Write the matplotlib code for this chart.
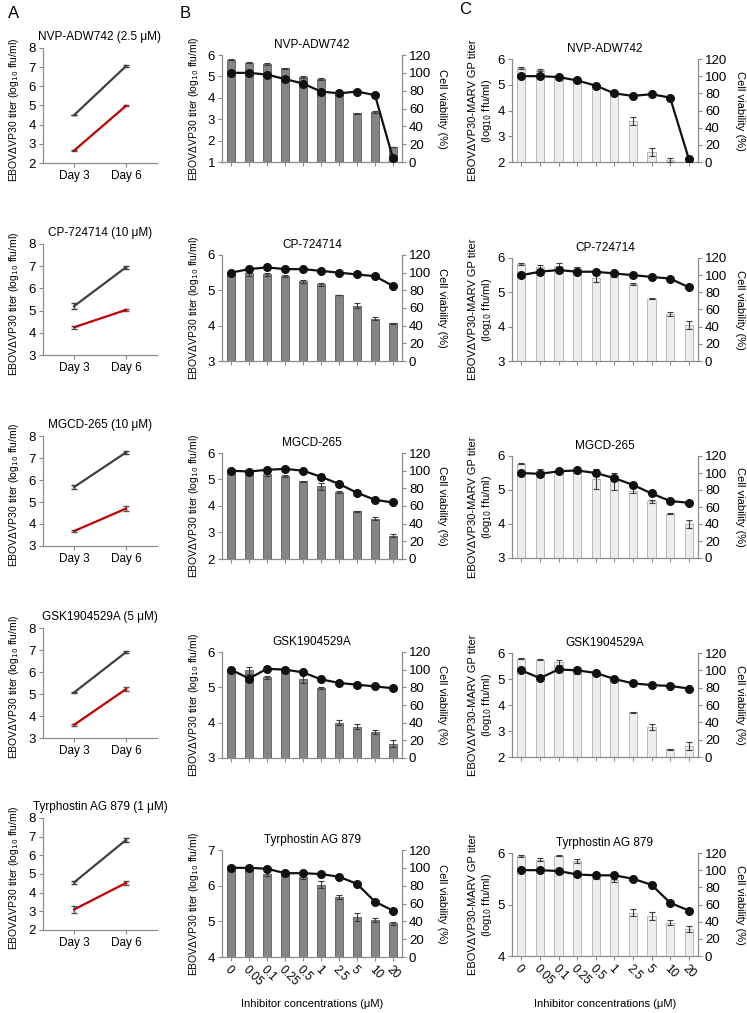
import numpy as np
import matplotlib
matplotlib.use('Agg')
import matplotlib.pyplot as plt

plt.rcParams['font.family'] = ['Liberation Sans', 'DejaVu Sans']
plt.rcParams['font.size'] = 8

W, H = 747, 1013

# ---------------- datos ----------------
drugs = ['NVP-ADW742', 'CP-724714', 'MGCD-265', 'GSK1904529A', 'Tyrphostin AG 879']
dose_a = ['2.5 μM', '10 μM', '10 μM', '5 μM', '1 μM']
days = ['Day 3', 'Day 6']
conc_labels = ['0', '0.05', '0.1', '0.25', '0.5', '1', '2.5', '5', '10', '20']

# Panel A: título (gris = control, rojo = inhibidor)
a_ctrl = [[4.50, 7.05], [5.20, 6.95], [5.68, 7.25], [5.07, 6.90], [4.55, 6.82]]
a_ctrl_err = [[0.02, 0.04], [0.15, 0.07], [0.07, 0.07], [0.02, 0.05], [0.10, 0.12]]
a_drug = [[2.65, 4.98], [4.25, 5.03], [3.68, 4.70], [3.60, 5.22], [3.10, 4.52]]
a_drug_err = [[0.03, 0.03], [0.07, 0.04], [0.03, 0.10], [0.05, 0.08], [0.20, 0.12]]
a_ylim = [(2, 8), (3, 8), (3, 8), (3, 8), (2, 8)]

# Panel B: EBOVdVP30
b_titer = [
    [5.78, 5.64, 5.57, 5.38, 4.98, 4.86, 4.22, 3.28, 3.34, 1.70],
    [5.53, 5.48, 5.45, 5.40, 5.25, 5.17, 4.87, 4.56, 4.20, 4.07],
    [5.32, 5.25, 5.20, 5.13, 4.93, 4.74, 4.53, 3.80, 3.52, 2.88],
    [5.50, 5.48, 5.29, 5.50, 5.23, 4.98, 4.00, 3.89, 3.73, 3.40],
    [6.55, 6.51, 6.32, 6.36, 6.25, 6.03, 5.68, 5.12, 5.03, 4.94],
]
b_titer_err = [
    [0.02, 0.03, 0.04, 0.03, 0.05, 0.05, 0.03, 0.02, 0.03, 0.02],
    [0.03, 0.08, 0.04, 0.02, 0.04, 0.05, 0.01, 0.07, 0.05, 0.01],
    [0.03, 0.03, 0.05, 0.05, 0.02, 0.12, 0.04, 0.03, 0.05, 0.05],
    [0.02, 0.10, 0.04, 0.07, 0.12, 0.02, 0.07, 0.07, 0.05, 0.10],
    [0.04, 0.03, 0.05, 0.04, 0.05, 0.10, 0.05, 0.10, 0.05, 0.05],
]
b_viab = [
    [100, 100, 98, 93, 88, 79, 77, 79, 75, 4],
    [100, 104, 106, 104, 104, 102, 100, 98, 96, 85],
    [100, 99, 101, 102, 100, 93, 85, 75, 67, 64],
    [100, 90, 101, 100, 97, 89, 85, 83, 81, 79],
    [100, 100, 99, 94, 94, 93, 90, 82, 62, 52],
]
b_ylim = [(1, 6), (3, 6), (2, 6), (3, 6), (4, 7)]

# Panel C: EBOVdVP30-MARV GP
c_titer = [
    [5.65, 5.56, 5.33, 5.14, 4.96, 4.67, 3.58, 2.38, 2.09, 2.00],
    [5.82, 5.73, 5.78, 5.72, 5.41, 5.50, 5.24, 4.82, 4.37, 4.05],
    [5.77, 5.58, 5.55, 5.55, 5.33, 5.25, 4.98, 4.67, 4.30, 4.00],
    [5.78, 5.74, 5.64, 5.33, 5.25, 4.97, 3.72, 3.15, 2.30, 2.42],
    [5.94, 5.87, 5.95, 5.85, 5.52, 5.47, 4.84, 4.78, 4.65, 4.53],
]
c_titer_err = [
    [0.03, 0.04, 0.06, 0.07, 0.03, 0.03, 0.15, 0.15, 0.08, 0.0],
    [0.02, 0.06, 0.06, 0.03, 0.10, 0.05, 0.02, 0.02, 0.07, 0.12],
    [0.02, 0.04, 0.04, 0.05, 0.30, 0.25, 0.07, 0.05, 0.02, 0.12],
    [0.02, 0.02, 0.10, 0.15, 0.03, 0.03, 0.02, 0.12, 0.02, 0.15],
    [0.02, 0.03, 0.01, 0.04, 0.02, 0.03, 0.07, 0.08, 0.05, 0.06],
]
c_viab = [
    [100, 100, 99, 95, 89, 80, 77, 79, 75, 4],
    [100, 104, 106, 104, 104, 102, 100, 98, 96, 86],
    [100, 99, 102, 103, 100, 94, 86, 76, 67, 65],
    [100, 91, 101, 100, 97, 90, 85, 83, 82, 79],
    [100, 100, 99, 95, 94, 94, 90, 83, 62, 53],
]
c_ylim = [(2, 6), (3, 6), (3, 6), (2, 6), (4, 6)]

# ---------------- geometría (px) ----------------
rows_a = [(48, 163), (244, 355), (436, 546), (628, 738), (818, 930)]
rows_b = [(55, 162), (255, 361), (453, 559), (652, 758), (850, 957)]
rows_c = [(59, 162), (258, 361), (456, 558), (653, 757), (853, 956)]
xa = (43, 157)
xb = (222, 402)
xc = (512, 698)

SPINE = '#8c8c8c'


def px_axes(fig, x0, x1, y0, y1):
    return fig.add_axes([x0 / W, 1 - y1 / H, (x1 - x0) / W, (y1 - y0) / H])


def style(ax):
    for s in ['top', 'right']:
        ax.spines[s].set_visible(False)
    for s in ['left', 'bottom']:
        ax.spines[s].set_color(SPINE)
        ax.spines[s].set_linewidth(0.9)
    ax.tick_params(colors=SPINE, labelcolor='black', length=3, width=0.8, labelsize=9.5, pad=2)


fig = plt.figure(figsize=(W / 100, H / 100), dpi=100)

fig.text(8 / W, 1 - 14 / H, 'A', fontsize=12, va='center')
fig.text(180 / W, 1 - 14 / H, 'B', fontsize=12, va='center')
fig.text(459 / W, 1 - 9 / H, 'C', fontsize=12, va='center')

ylab_b = 'EBOV\u0394VP30 titer (log$_{10}$ ffu/ml)'

# -------- Panel A --------
for i in range(5):
    y0, y1 = rows_a[i]
    ax = px_axes(fig, xa[0], xa[1], y0, y1)
    style(ax)
    x = np.arange(2)
    ax.errorbar(x, a_ctrl[i], yerr=a_ctrl_err[i], color='#404040', lw=1.6,
                ecolor='#404040', elinewidth=1, capsize=2)
    ax.errorbar(x, a_drug[i], yerr=a_drug_err[i], color='#c00000', lw=1.6,
                ecolor='#555555', elinewidth=1, capsize=2)
    ax.set_xlim(-0.6, 1.6)
    ax.set_ylim(*a_ylim[i])
    ax.set_yticks(np.arange(a_ylim[i][0], a_ylim[i][1] + 1, 1))
    ax.set_xticks(x)
    ax.set_xticklabels(days, fontsize=8.5)
    ax.set_title('%s (%s)' % (drugs[i], dose_a[i]), fontsize=8.5, pad=6)
    fig.text(14 / W, 1 - ((y0 + y1) / 2 + 4) / H, ylab_b, rotation=90,
             ha='center', va='center', fontsize=7.5)


def bar_panel(xr, rows, titer, titer_err, viab, ylims, color, edge, ylab_lines, rlab_x, i_last):
    for i in range(5):
        y0, y1 = rows[i]
        ax = px_axes(fig, xr[0], xr[1], y0, y1)
        style(ax)
        x = np.arange(len(conc_labels))
        lo = ylims[i][0]
        ax.bar(x, np.array(titer[i]) - lo, bottom=lo, width=0.45, color=color,
               edgecolor=edge, linewidth=0.7, zorder=2)
        ax.errorbar(x, titer[i], yerr=titer_err[i], fmt='none', ecolor='#3a3a3a',
                    elinewidth=0.8, capsize=2.2, capthick=0.8, zorder=3)
        ax.set_xlim(-0.5, len(conc_labels) - 0.5)
        ax.set_ylim(*ylims[i])
        ax.set_yticks(np.arange(ylims[i][0], ylims[i][1] + 1, 1))
        ax.set_xticks(x)
        if i == i_last:
            ax.set_xticklabels(conc_labels, rotation=-45, ha='left', va='top',
                               rotation_mode='anchor', fontsize=8.5)
        else:
            ax.set_xticklabels([])
        ax.set_title(drugs[i], fontsize=8.5, pad=5)

        ax2 = ax.twinx()
        for s in ['top', 'left', 'bottom']:
            ax2.spines[s].set_visible(False)
        ax2.spines['right'].set_color(SPINE)
        ax2.spines['right'].set_linewidth(0.9)
        ax2.tick_params(colors=SPINE, labelcolor='black', length=3, width=0.8, labelsize=9.5, pad=2)
        ax2.plot(x, viab[i], color='#111111', lw=1.6, marker='o', ms=5.5, zorder=4)
        ax2.set_ylim(0, 120)
        ax2.set_yticks(np.arange(0, 121, 20))

        yc = (y0 + y1) / 2
        if len(ylab_lines) == 1:
            fig.text(ylab_lines[0][1] / W, 1 - yc / H, ylab_lines[0][0], rotation=90,
                     ha='center', va='center', fontsize=7.5)
        else:
            for txt, xp in ylab_lines:
                fig.text(xp / W, 1 - yc / H, txt, rotation=90,
                         ha='center', va='center', fontsize=8)
        fig.text(rlab_x / W, 1 - yc / H, 'Cell viability (%)', rotation=270,
                 ha='center', va='center', fontsize=8)
    fig.text((xr[0] + xr[1]) / 2 / W, 1 - 1004 / H, 'Inhibitor concentrations (μM)',
             ha='center', va='center', fontsize=8)


bar_panel(xb, rows_b, b_titer, b_titer_err, b_viab, b_ylim, '#858585', '#6a6a6a',
          [(ylab_b, 194)], 442, 4)
bar_panel(xc, rows_c, c_titer, c_titer_err, c_viab, c_ylim, '#eeeeee', '#b8b8b8',
          [('EBOV\u0394VP30-MARV GP titer', 473), ('(log$_{10}$ ffu/ml)', 487)], 740, 4)

fig.savefig('out.png', dpi=100)
